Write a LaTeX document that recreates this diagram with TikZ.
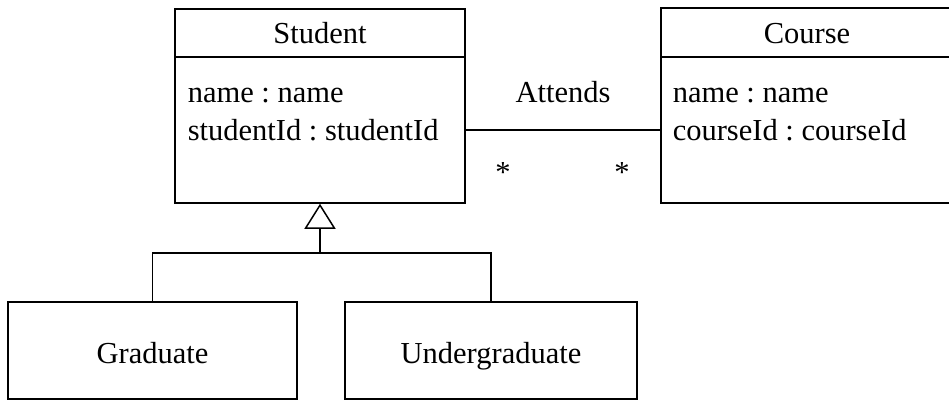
\documentclass[tikz,border=0pt]{standalone}
\usepackage{fontspec}
\setmainfont{Liberation Serif}
\usetikzlibrary{arrows.meta}
\frenchspacing
\begin{document}
\begin{tikzpicture}[x=1pt,y=-1pt,
  line width=1.5pt,
  txt/.style={inner sep=0pt,anchor=base,font=\fontsize{30.5}{36}\selectfont},
  ltxt/.style={txt,anchor=base west},
  cls/.style={draw,rectangle,inner sep=0pt}]
\useasboundingbox (0,0) rectangle (949,402);
% boxes
\node[cls,minimum width=290pt,minimum height=194pt] (student) at (320,106) {};
\node[cls,minimum width=292pt,minimum height=195pt] (course) at (807,105.5) {};
\node[cls,minimum width=289pt,minimum height=97pt] (grad) at (152.5,350.5) {};
\node[cls,minimum width=292pt,minimum height=97pt] (ug) at (491,350.5) {};
% dividers
\coordinate (sdiv) at (0,57);
\draw (student.west |- sdiv) -- (student.east |- sdiv);
\draw (course.west |- sdiv) -- (course.east |- sdiv);
% texts
\node[txt] (stitle) at (320,43) {Student};
\node[ltxt] (sa1) at (187,102) {name : name};
\node[ltxt] (sa2) at (187,140) {studentId : studentId};
\node[txt] (ctitle) at (807,43) {Course};
\node[ltxt] (ca1) at (672,102) {name : name};
\node[ltxt] (ca2) at (672,140) {courseId : courseId};
\node[txt] (gt) at (152.5,363) {Graduate};
\node[txt] (ut) at (491,363) {Undergraduate};
% association
\coordinate (al) at (0,130);
\draw (student.east |- al) -- (course.west |- al);
\node[txt] (attends) at (563,102) {Attends};
\node[txt] (m1) at (503,182) {*};
\node[txt] (m2) at (622,182) {*};
% generalization
\coordinate (gj) at (320,253);
\draw[-{Triangle[open,length=25pt,width=31pt,line width=1.5pt]}] (gj) -- (student.south);
\draw (grad.north) |- (gj) -| (ug.north);
\end{tikzpicture}
\end{document}
